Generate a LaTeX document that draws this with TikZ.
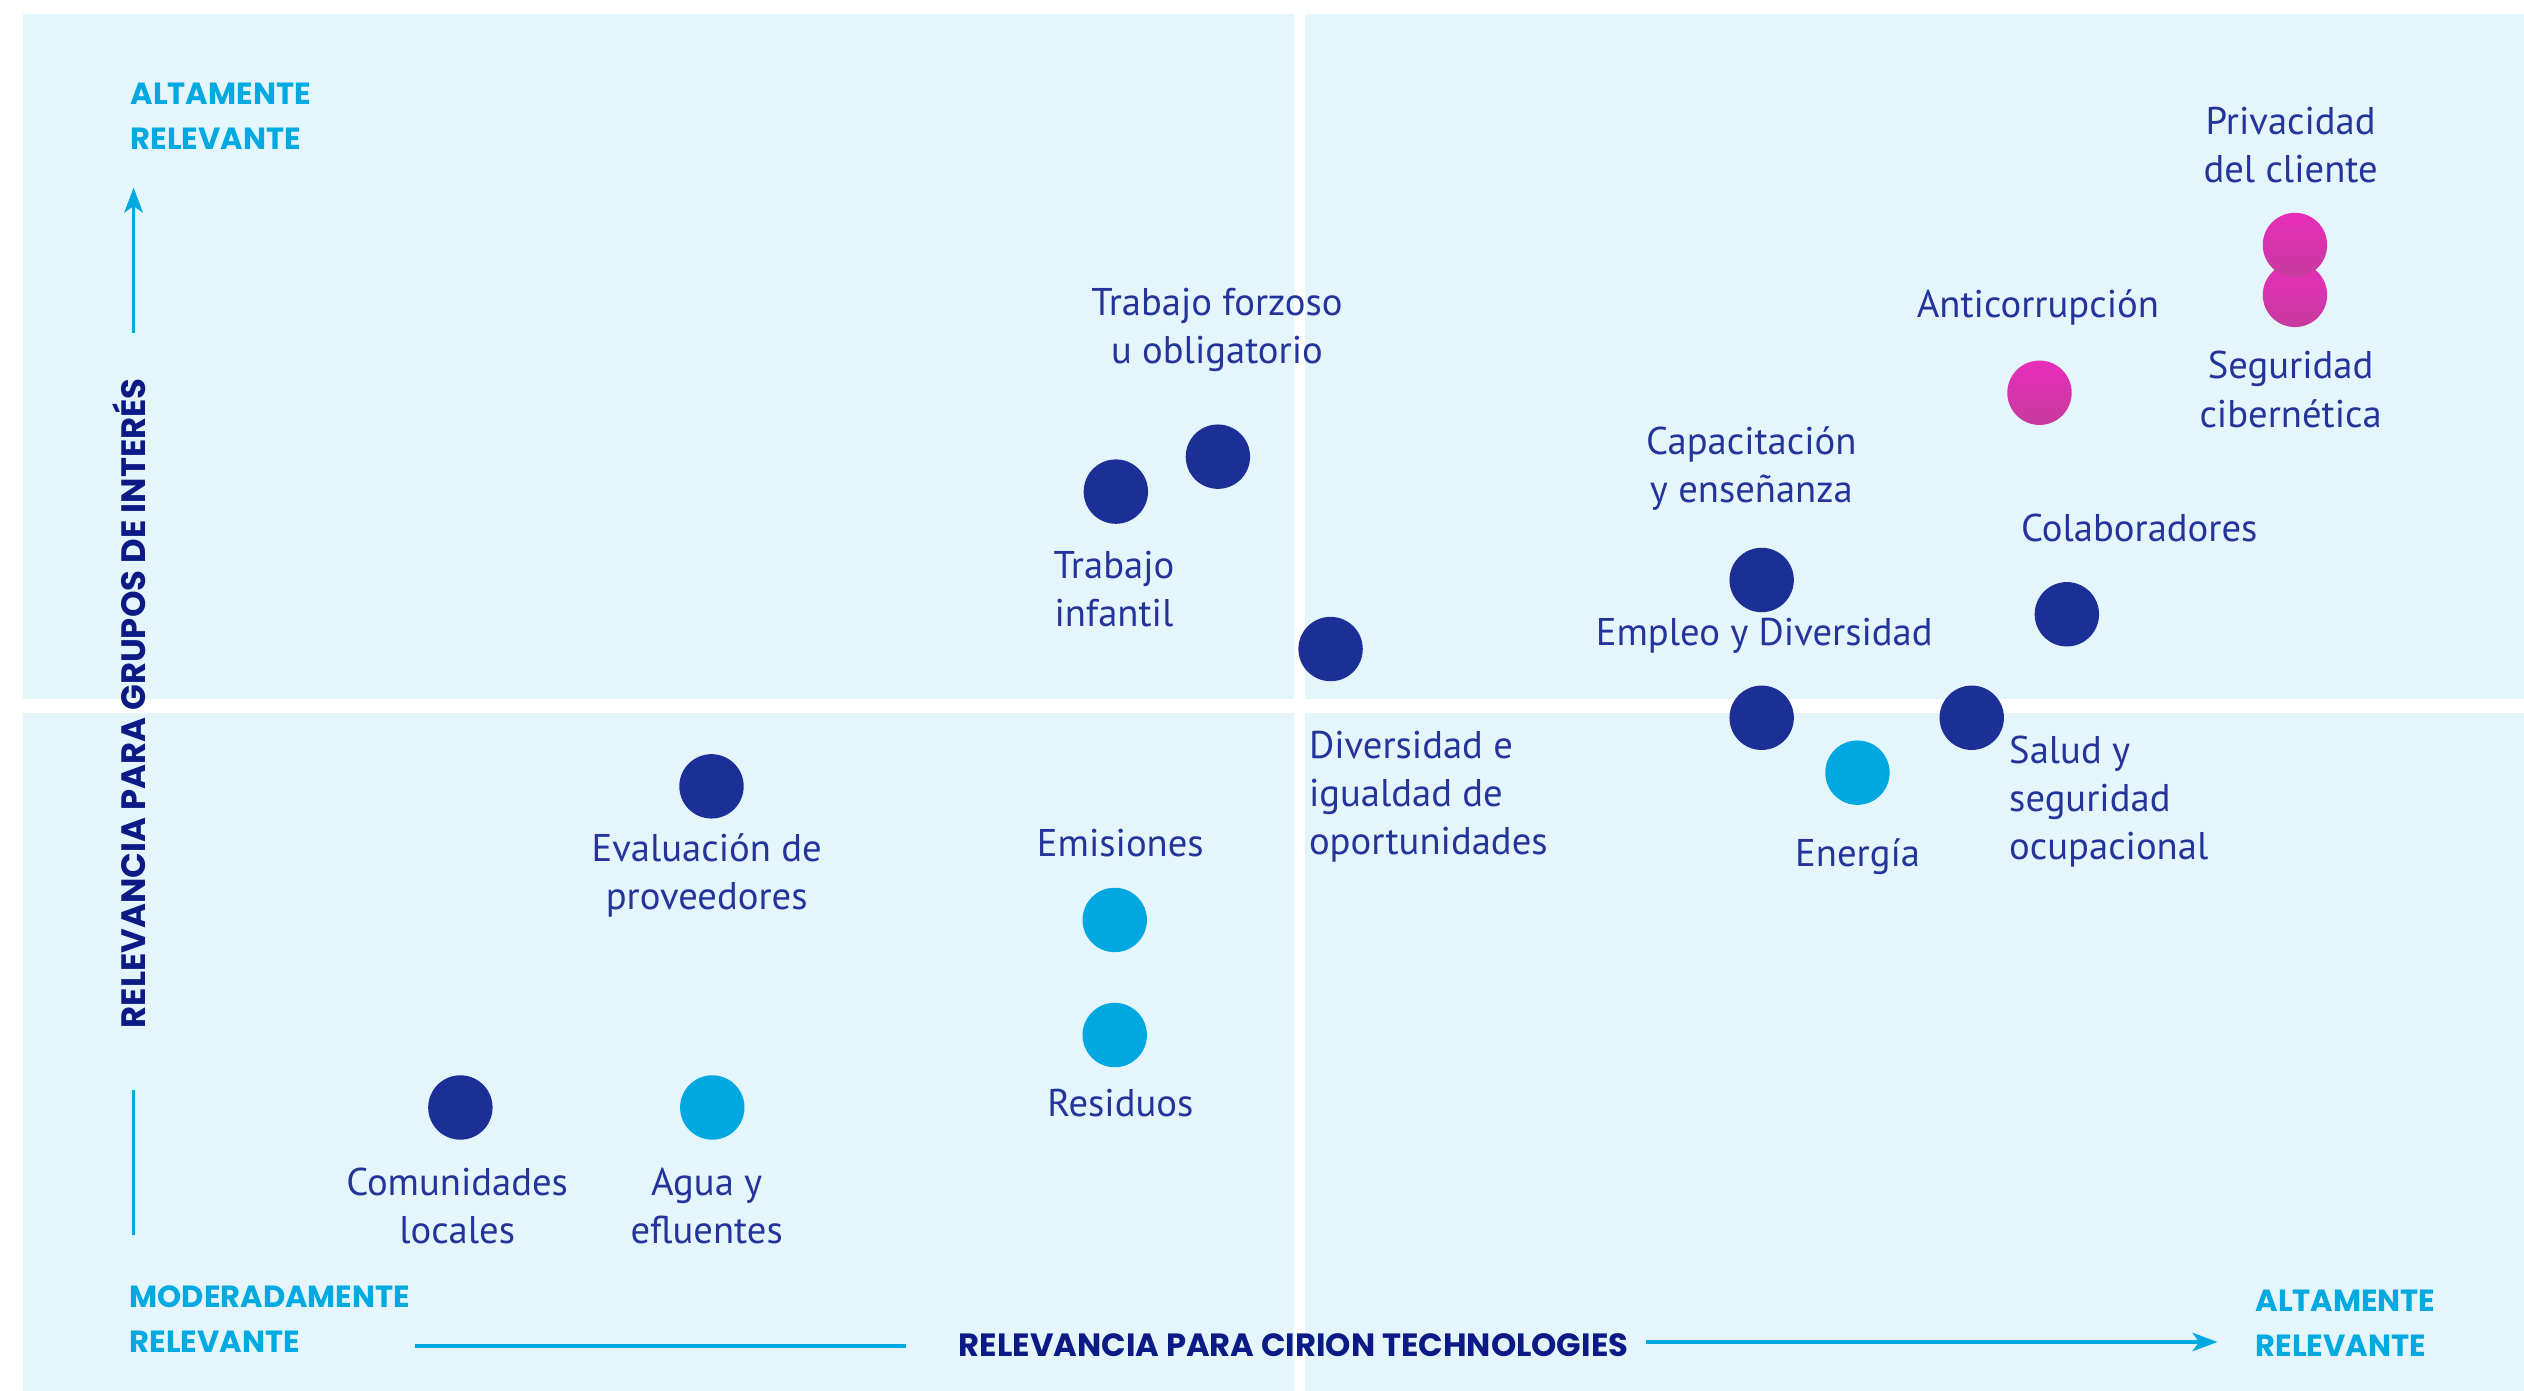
\documentclass[tikz,border=0pt]{standalone}
\usepackage{fontspec}
\setmainfont{PT Sans}
\newfontfamily\capsfont{Poppins}
\usetikzlibrary{arrows.meta}
\definecolor{bgc}{HTML}{E4F6FB}
\definecolor{dotdark}{HTML}{1C2F96}
\definecolor{dotlight}{HTML}{00A8E1}
\definecolor{pinkT}{HTML}{E82DBA}
\definecolor{pinkB}{HTML}{C63B9E}
\definecolor{labelc}{HTML}{24349A}
\definecolor{navy}{HTML}{0C1A86}
\definecolor{axcyan}{HTML}{00A9E0}
\begin{document}
\begin{tikzpicture}[x=1pt,y=-1pt,
  dot/.style={circle,inner sep=0pt,minimum size=40pt,draw=none},
  dkdot/.style={dot,fill=dotdark},
  ltdot/.style={dot,fill=dotlight},
  pkdot/.style={dot,top color=pinkT,bottom color=pinkB},
  lbl/.style={font=\fontsize{24}{30}\selectfont,text=labelc,align=center,inner sep=0pt,yshift=-1pt},
  lbll/.style={lbl,align=left,anchor=west},
  axw/.style={font=\capsfont\bfseries\fontsize{19}{28}\selectfont,text=axcyan,align=left,inner sep=0pt,anchor=west,yshift=-0.2pt},
  axt/.style={text=navy,inner sep=0pt},
  axthin/.style={draw=axcyan,line width=1.7pt},
  axthick/.style={draw=axcyan,line width=2.5pt},
  tipstyle/.style={-{Stealth[length=15.5pt,width=11.6pt,inset=4pt]}}
]
% background
\fill[white] (0,0) rectangle (1568,864);
\useasboundingbox (0,0) rectangle (1568,864);
\fill[bgc] (14,9) rectangle (804,434);
\fill[bgc] (811,9) rectangle (1568,434);
\fill[bgc] (14,443) rectangle (804,864);
\fill[bgc] (811,443) rectangle (1568,864);

% axis words
\node[axw] (axTL) at (81,72.2) {ALTAMENTE\\RELEVANTE};
\node[axw] (axBL) at (80.4,819.5) {MODERADAMENTE\\RELEVANTE};
\node[axw] (axBR) at (1401,821.6) {ALTAMENTE\\RELEVANTE};
\node[axt,font=\capsfont\bfseries\fontsize{20}{24}\selectfont] (titH) at (803.6,835.5) {RELEVANCIA PARA CIRION TECHNOLOGIES};
\node[axt,font=\capsfont\bfseries\fontsize{21}{24}\selectfont,rotate=90] (titV) at (80,437) {RELEVANCIA PARA GRUPOS DE INTERÉS};

% axis lines
\coordinate (upS) at (83,207);
\coordinate (upE) at (83,116.6);
\coordinate (vlS) at (83,677);
\coordinate (vlE) at (83,767);
\coordinate (hlS) at (258,836);
\coordinate (hlE) at (562.6,836);
\coordinate (raS) at (1022.4,833.7);
\coordinate (raE) at (1377.6,833.7);
\draw[axthin,tipstyle] (upS) -- (upE);
\draw[axthin] (vlS) -- (vlE);
\draw[axthick] (hlS) -- (hlE);
\draw[axthick,-{Stealth[length=15.5pt,width=11.4pt,inset=4pt]}] (raS) -- (raE);

% dots
\node[pkdot] (dSeg) at (1425.7,183.2) {};
\node[pkdot] (dPriv) at (1425.7,152.2) {};
\node[pkdot] (dAnti) at (1267,244) {};
\node[dkdot] (dForz) at (756.6,283.7) {};
\node[dkdot] (dInf) at (693.2,305.4) {};
\node[dkdot] (dCap) at (1094.4,360.3) {};
\node[dkdot] (dColab) at (1284,381.6) {};
\node[dkdot] (dDiv) at (826.6,403.2) {};
\node[dkdot] (dEmp) at (1094.4,445.9) {};
\node[dkdot] (dSalud) at (1224.9,445.9) {};
\node[ltdot] (dEnerg) at (1153.9,480) {};
\node[dkdot] (dEval) at (442,488.5) {};
\node[ltdot] (dEmis) at (692.5,571.5) {};
\node[ltdot] (dResid) at (692.5,643) {};
\node[dkdot] (dComun) at (286,688) {};
\node[ltdot] (dAgua) at (442.5,688) {};

% labels
\node[lbl] (lPriv) at (1423,89) {Privacidad\\del cliente};
\node[lbl] (lSeg) at (1423,241) {Seguridad\\cibernética};
\node[lbl] (lAnti) at (1266,190) {Anticorrupción};
\node[lbl] (lForz) at (756,204) {Trabajo forzoso\\u obligatorio};
\node[lbl] (lInf) at (692,365) {Trabajo\\infantil};
\node[lbl] (lCap) at (1088,290) {Capacitación\\y enseñanza};
\node[lbl] (lColab) at (1329,327) {Colaboradores};
\node[lbll] (lDiv) at (813,494) {Diversidad e\\igualdad de\\oportunidades};
\node[lbl] (lEmp) at (1096,394) {Empleo y Diversidad};
\node[lbll] (lSalud) at (1248,497) {Salud y\\seguridad\\ocupacional};
\node[lbl] (lEnerg) at (1154,531) {Energía};
\node[lbl] (lEval) at (439,543) {Evaluación de\\proveedores};
\node[lbl] (lEmis) at (696,523) {Emisiones};
\node[lbl] (lResid) at (696,684) {Residuos};
\node[lbl] (lComun) at (284,748) {Comunidades\\locales};
\node[lbl] (lAgua) at (439,748) {Agua y\\efluentes};
\end{tikzpicture}
\end{document}
